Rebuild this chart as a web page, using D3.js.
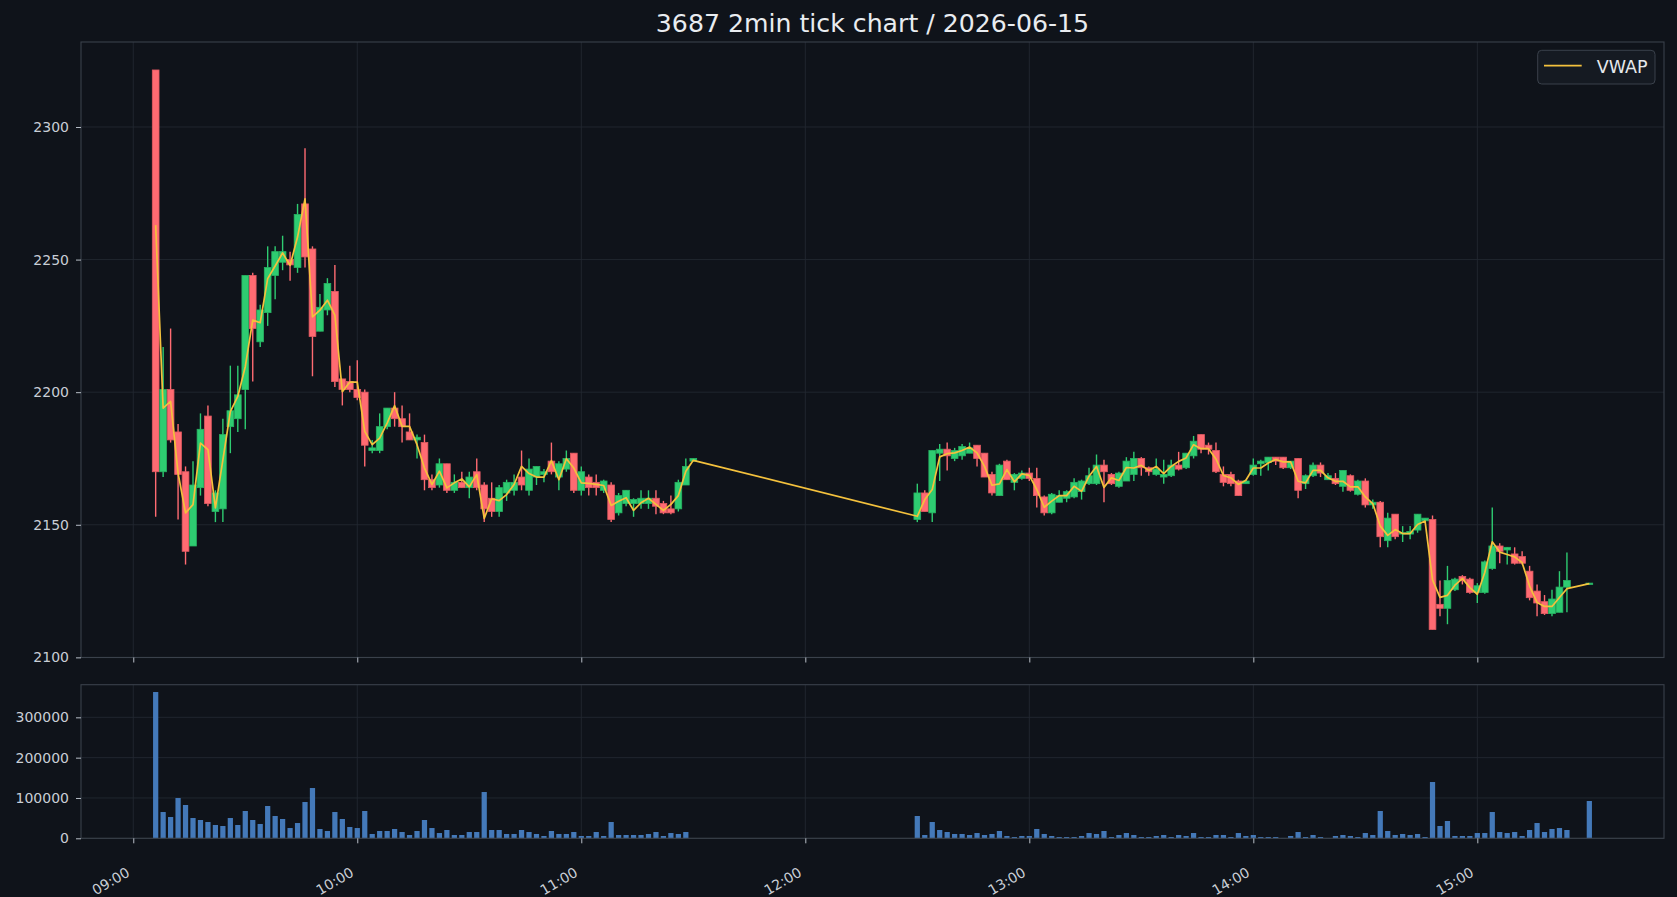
<!DOCTYPE html>
<html lang="en">
<head>
<meta charset="UTF-8">
<title>3687 2min tick chart</title>
<script src="https://cdn.jsdelivr.net/npm/d3@7"></script>
<style>
  html, body { margin: 0; padding: 0; background: #0f131a; }
  svg { display: block; font-family: "DejaVu Sans", sans-serif; }
</style>
</head>
<body>
<script>
  // 2-minute bars, morning session then afternoon session
  var times = ("09:06 09:08 09:10 09:12 09:14 09:16 09:18 09:20 09:22 09:24 09:26 09:28 09:30 09:32 09:34 09:36 09:38 09:40 09:42 09:44 09:46 09:48 09:50 09:52 09:54 09:56 09:58 " +
    "10:00 10:02 10:04 10:06 10:08 10:10 10:12 10:14 10:16 10:18 10:20 10:22 10:24 10:26 10:28 10:30 10:32 10:34 10:36 10:38 10:40 10:42 10:44 10:46 10:48 10:50 10:52 10:54 10:56 10:58 " +
    "11:00 11:02 11:04 11:06 11:08 11:10 11:12 11:14 11:16 11:18 11:20 11:22 11:24 11:26 11:28 11:30 " +
    "12:30 12:32 12:34 12:36 12:38 12:40 12:42 12:44 12:46 12:48 12:50 12:52 12:54 12:56 12:58 " +
    "13:00 13:02 13:04 13:06 13:08 13:10 13:12 13:14 13:16 13:18 13:20 13:22 13:24 13:26 13:28 13:30 13:32 13:34 13:36 13:38 13:40 13:42 13:44 13:46 13:48 13:50 13:52 13:54 13:56 13:58 " +
    "14:00 14:02 14:04 14:06 14:08 14:10 14:12 14:14 14:16 14:18 14:20 14:22 14:24 14:26 14:28 14:30 14:32 14:34 14:36 14:38 14:40 14:42 14:44 14:46 14:48 14:50 14:52 14:54 14:56 14:58 " +
    "15:00 15:02 15:04 15:06 15:08 15:10 15:12 15:14 15:16 15:18 15:20 15:22 15:24 15:30").split(" ");

  var open = [2321.5, 2170, 2201, 2185, 2170, 2142, 2164, 2191, 2155, 2156, 2187, 2190, 2201, 2244, 2219, 2230, 2244, 2249, 2250, 2247,
    2271, 2254, 2223, 2231, 2238, 2205, 2204, 2201, 2200, 2178, 2178, 2187, 2194, 2190, 2185, 2182, 2181, 2167, 2165, 2173,
    2163, 2166, 2164, 2170, 2165, 2160, 2155, 2162, 2163, 2168, 2163, 2168, 2169, 2174, 2168, 2171, 2177, 2163, 2168, 2166,
    2163, 2165, 2154.5, 2158, 2158, 2158, 2158, 2160, 2158, 2156, 2156, 2165, 2174,
    2152, 2162, 2154.5, 2177, 2178.5, 2175, 2176, 2177, 2180, 2177, 2169, 2161, 2174, 2166, 2167.5,
    2169.5, 2167.5, 2160.5, 2154.5, 2158.5, 2160, 2160.5, 2162.5, 2165.5, 2165.5, 2172.5, 2169, 2164.5, 2166.5, 2169,
    2175, 2171.5, 2169, 2168, 2168.5, 2172.5, 2171.5, 2176, 2184, 2180, 2178, 2169, 2169, 2166.5, 2165.5,
    2169, 2173, 2173.5, 2175.5, 2175.5, 2171.5, 2175, 2165.5, 2168.5, 2172.5, 2167, 2167.5, 2164.5, 2168.5, 2161.5,
    2166.5, 2157.5, 2158.5, 2144, 2154, 2146.5, 2146.5, 2148, 2151.5, 2152, 2120, 2118.5, 2125.5, 2130.5, 2129.5,
    2124.5, 2124.5, 2133.5, 2142, 2140.5, 2139, 2138, 2132.5, 2125, 2121, 2116.5, 2117, 2126.5, 2127.5];

  var high = [2321.5, 2217, 2224, 2188, 2172, 2174, 2192, 2195, 2163, 2190, 2210, 2210, 2244, 2245, 2233, 2255, 2255, 2259, 2253, 2271,
    2292, 2255, 2237, 2243, 2248, 2205, 2210, 2212, 2201, 2182, 2192, 2194, 2200, 2195, 2192, 2184, 2184, 2169, 2175, 2173,
    2169, 2170, 2170, 2175, 2166, 2166, 2165, 2167, 2169, 2178, 2175, 2172, 2171, 2181, 2174, 2178, 2177, 2172, 2169, 2169,
    2167, 2166, 2162, 2163, 2160, 2163, 2163, 2163, 2159, 2161, 2167, 2175, 2175,
    2165.5, 2163, 2178, 2180.5, 2181, 2179, 2180.5, 2181, 2180, 2177, 2170, 2173, 2174.5, 2169.5, 2170.5,
    2171.5, 2171.5, 2161, 2162, 2163, 2163, 2167.5, 2167, 2171.5, 2176.5, 2174.5, 2169.5, 2170, 2175.5, 2177.5,
    2175.5, 2172, 2175, 2174.5, 2174.5, 2177.5, 2177, 2183.5, 2184, 2181, 2181, 2172, 2170, 2167, 2167,
    2175, 2174.5, 2175.5, 2175.5, 2175.5, 2174, 2175, 2169, 2173.5, 2173.5, 2169.5, 2169.5, 2170.5, 2169, 2167,
    2167.5, 2159.5, 2159, 2154.5, 2154, 2149.5, 2149.5, 2154, 2152.5, 2153.5, 2129, 2134.5, 2130, 2131, 2130,
    2128, 2136.5, 2156.5, 2143, 2141.5, 2141.5, 2140, 2134.5, 2127.5, 2123.5, 2125.5, 2132.5, 2139.5, 2128];

  var low = [2153, 2168, 2181, 2152, 2135, 2142, 2161, 2157, 2151, 2151, 2177, 2185, 2186, 2204, 2217, 2225, 2235, 2246, 2242, 2245,
    2247, 2206, 2223, 2229, 2202, 2195, 2200, 2197, 2172, 2177, 2177, 2186, 2187, 2181, 2182, 2175, 2163, 2163, 2164, 2162,
    2162, 2164, 2160, 2163, 2151, 2153, 2153, 2159, 2161, 2163, 2161, 2165, 2166, 2169, 2163, 2170, 2162, 2161, 2161, 2161,
    2162, 2151, 2153.5, 2157, 2153, 2156, 2156, 2154, 2154, 2154, 2155, 2165, 2174,
    2151, 2155, 2151, 2166.5, 2170.5, 2174, 2174.5, 2177, 2172, 2168, 2161, 2161, 2167, 2163, 2167,
    2166.5, 2156.5, 2153.5, 2154, 2158.5, 2158.5, 2160, 2159.5, 2165, 2165, 2158.5, 2165, 2164, 2166.5, 2166.5,
    2168.5, 2168.5, 2168.5, 2165.5, 2168, 2170.5, 2171, 2175, 2177, 2176.5, 2169.5, 2164.5, 2164.5, 2161, 2165.5,
    2168.5, 2168.5, 2170.5, 2172.5, 2171, 2171, 2160, 2163.5, 2168, 2168, 2167, 2165, 2162.5, 2162.5, 2161,
    2156.5, 2156, 2141.5, 2141.5, 2144.5, 2143.5, 2144.5, 2147, 2151, 2110.5, 2115.5, 2112.5, 2125, 2127.5, 2124,
    2120.5, 2124, 2133, 2135.5, 2135, 2135, 2135, 2121.5, 2115.5, 2116, 2115.5, 2117, 2117, 2127.5];

  var close = [2170, 2201, 2182, 2169, 2140, 2165, 2186, 2158, 2162, 2184, 2193, 2199, 2244, 2224, 2231, 2247, 2253, 2253, 2248, 2267,
    2251, 2221, 2232, 2241, 2204, 2201, 2201, 2198, 2180, 2179, 2187, 2194, 2190, 2187, 2182, 2183, 2167, 2164, 2173, 2163,
    2166, 2164, 2168, 2164, 2156, 2155, 2164, 2166, 2166, 2165, 2171, 2172, 2170, 2170, 2173, 2175, 2163, 2170, 2164, 2164,
    2166.5, 2152, 2161, 2163, 2159.5, 2160, 2160, 2157, 2154.5, 2154.5, 2166, 2172, 2175,
    2162, 2155, 2178, 2178.5, 2176, 2178, 2179.5, 2179, 2175, 2168, 2162, 2172.5, 2167, 2169, 2169.5,
    2167.5, 2161, 2154.5, 2161.5, 2161, 2162.5, 2166, 2166.5, 2168.5, 2172.5, 2170, 2165.5, 2169.5, 2174, 2175,
    2171.5, 2170, 2171, 2169, 2172.5, 2171, 2177, 2181.5, 2178.5, 2178.5, 2170, 2166, 2165.5, 2161, 2166.5,
    2172.5, 2174, 2175.5, 2174, 2171.5, 2174, 2163, 2168.5, 2172.5, 2169.5, 2168.5, 2165.5, 2170.5, 2163, 2166.5,
    2157.5, 2158.5, 2145.5, 2152.5, 2145.5, 2147, 2147.5, 2154, 2152.5, 2110.5, 2118.5, 2129, 2129.5, 2129, 2124.5,
    2127, 2136, 2142, 2140, 2141.5, 2135.5, 2135.5, 2122.5, 2120.5, 2116.5, 2122, 2126.5, 2129, 2128];

  var vwap = [2263, 2194, 2196.5, 2169.5, 2154.5, 2157.6, 2180.8, 2178.3, 2156.4, 2174.5, 2192.7, 2198.4, 2209.6, 2227.2, 2226.2, 2242.8, 2247.6, 2252.5, 2247.8, 2258.5,
    2272.9, 2228.4, 2230.9, 2234.7, 2229.1, 2200.2, 2203.8, 2203.8, 2185.2, 2180.2, 2182.7, 2188.3, 2194.9, 2187.1, 2187.1, 2180.2, 2171.4, 2165.2, 2170.2, 2163.9,
    2165.8, 2167.3, 2164.3, 2168.9, 2152.4, 2159.8, 2159.1, 2161.4, 2165.2, 2172, 2169.3, 2168, 2168, 2174.2, 2167, 2174.9, 2171.4, 2165.8, 2165.6, 2165.2,
    2164.8, 2157.3, 2158.9, 2160.2, 2155.4, 2158.3, 2160, 2157.7, 2155.4, 2157.7, 2161, 2170.2, 2174.3,
    2153.2, 2159.5, 2163.3, 2175.6, 2176.8, 2177.1, 2178, 2179.3, 2177.1, 2172, 2164.9, 2165.4, 2170.8, 2166.2, 2169.2,
    2168.6, 2163.3, 2156.6, 2158.9, 2161, 2161, 2164.5, 2162.6, 2168.3, 2172, 2164.1, 2167.7, 2166.7, 2171.6, 2171.4,
    2172.4, 2170.5, 2172, 2169.3, 2172, 2173.9, 2175.2, 2180.2, 2178.7, 2178.7, 2174.8, 2168.6, 2167.7, 2165.2, 2166.8,
    2171.4, 2171.4, 2173.3, 2174.6, 2173.7, 2173.7, 2166.4, 2165.8, 2170.5, 2170.5, 2167.7, 2166.4, 2166.4, 2164.3, 2164.3,
    2160.5, 2158, 2149.5, 2146, 2148.2, 2146.7, 2146.7, 2150.1, 2151.4, 2129.2, 2122.6, 2123.4, 2127.2, 2129.7, 2126.3,
    2123.8, 2132, 2143.6, 2139.7, 2138.8, 2137.9, 2135.7, 2126.9, 2120.7, 2119.2, 2119.2, 2122.6, 2125.9, 2127.8];

  var volume = [362800, 65200, 52800, 99900, 82600, 50300, 45400, 40400, 33000, 30500, 50300, 33000, 67700, 45400, 35500, 80100, 55300, 47900, 25500, 37900,
    90000, 124700, 23100, 18100, 65200, 47900, 28000, 25500, 67700, 10700, 18100, 18100, 23100, 15600, 8200, 18100, 45400, 25500, 13100, 20600,
    8200, 8200, 15600, 15600, 114800, 20600, 20600, 10700, 10700, 20600, 15600, 10700, 5700, 18100, 10700, 10700, 15600, 5700, 5700, 15600,
    5700, 40400, 8200, 8200, 8200, 8200, 10700, 15600, 5700, 13100, 10700, 15600, 0,
    55300, 8200, 40400, 20600, 15600, 10700, 10700, 8200, 13100, 8200, 10700, 18100, 5700, 3200, 5700,
    5700, 23100, 10700, 5700, 3200, 3200, 3200, 5700, 13100, 10700, 18100, 3200, 8200, 13100, 8200,
    3200, 3200, 5700, 8200, 3200, 8200, 5700, 13100, 3200, 3200, 8200, 8200, 3200, 13100, 5700,
    8200, 3200, 3200, 3200, 800, 5700, 15600, 3200, 8200, 3200, 800, 5700, 8200, 5700, 3200,
    13100, 8200, 67700, 18100, 8200, 10700, 8200, 10700, 3200, 139600, 30500, 42900, 5700, 5700, 5700,
    13100, 13100, 65200, 15600, 13100, 15600, 5700, 20600, 37900, 15600, 23100, 25500, 20600, 92500];

  var hourTicks = ["09:00", "10:00", "11:00", "12:00", "13:00", "14:00", "15:00"];
  var priceTicks = [2100, 2150, 2200, 2250, 2300];
  var volumeTicks = [0, 100000, 200000, 300000];

  var W = 1677, H = 897;
  var bg = "#0f131a", gridColor = "#232831", spineColor = "#3a414b", textColor = "#c9ced6";
  var upColor = "#2ecc71", upEdge = "#27b463", downColor = "#ff6b72", downEdge = "#e25a62";
  var vwapColor = "#f4c13d", volColor = "#4479b9";

  var parse = d3.timeParse("%H:%M");
  var bars = times.map(function(t, i) {
    return { t: parse(t), o: open[i], h: high[i], l: low[i], c: close[i], vw: vwap[i], v: volume[i] };
  });

  var main = { left: 81, right: 1664, top: 42, bottom: 657.5 };
  var vol  = { left: 81, right: 1664, top: 684.7, bottom: 838.3 };

  var x = d3.scaleTime()
      .domain([parse("08:46"), parse("15:50")])
      .range([main.left, main.right]);

  var lo = d3.min(low), hi = d3.max(high), pad = (hi - lo) * 0.05;
  var y = d3.scaleLinear().domain([lo - pad, hi + pad]).range([main.bottom, main.top]);
  var yv = d3.scaleLinear().domain([0, d3.max(volume) * 1.05]).range([vol.bottom, vol.top]);

  var step = x(parse("09:02")) - x(parse("09:00"));
  var bodyW = step * 0.9, volW = step * 0.7;

  var svg = d3.select("body").append("svg")
      .attr("width", W)
      .attr("height", H);

  svg.append("rect").attr("width", W).attr("height", H).attr("fill", bg);

  // panel backgrounds and grids
  [main, vol].forEach(function(p, k) {
    svg.append("rect")
        .attr("x", p.left).attr("y", p.top)
        .attr("width", p.right - p.left).attr("height", p.bottom - p.top)
        .attr("fill", bg);

    var g = svg.append("g").attr("stroke", gridColor).attr("stroke-width", 0.9);
    g.selectAll("line.v")
        .data(hourTicks)
      .enter().append("line")
        .attr("x1", function(d) { return x(parse(d)); })
        .attr("x2", function(d) { return x(parse(d)); })
        .attr("y1", p.top).attr("y2", p.bottom);
    var sc = k === 0 ? y : yv, tv = k === 0 ? priceTicks : volumeTicks;
    g.selectAll("line.h")
        .data(tv)
      .enter().append("line")
        .attr("x1", p.left).attr("x2", p.right)
        .attr("y1", function(d) { return sc(d); })
        .attr("y2", function(d) { return sc(d); });
  });

  // candles
  var candles = svg.append("g");
  candles.selectAll("line")
      .data(bars)
    .enter().append("line")
      .attr("x1", function(d) { return x(d.t); })
      .attr("x2", function(d) { return x(d.t); })
      .attr("y1", function(d) { return y(d.h); })
      .attr("y2", function(d) { return y(d.l); })
      .attr("stroke", function(d) { return d.c >= d.o ? upColor : downColor; })
      .attr("stroke-width", 1.4);

  candles.selectAll("rect")
      .data(bars)
    .enter().append("rect")
      .attr("x", function(d) { return x(d.t) - bodyW / 2; })
      .attr("y", function(d) { return y(Math.max(d.o, d.c)); })
      .attr("width", bodyW)
      .attr("height", function(d) { return Math.max(1, Math.abs(y(d.o) - y(d.c))); })
      .attr("fill", function(d) { return d.c >= d.o ? upColor : downColor; })
      .attr("stroke", function(d) { return d.c >= d.o ? upEdge : downEdge; })
      .attr("stroke-width", 0.8);

  svg.append("path")
      .datum(bars)
      .attr("fill", "none")
      .attr("stroke", vwapColor)
      .attr("stroke-width", 1.7)
      .attr("stroke-linejoin", "round")
      .attr("d", d3.line()
        .x(function(d) { return x(d.t); })
        .y(function(d) { return y(d.vw); }));

  // volume
  svg.append("g").selectAll("rect")
      .data(bars)
    .enter().append("rect")
      .attr("x", function(d) { return x(d.t) - volW / 2; })
      .attr("y", function(d) { return yv(d.v); })
      .attr("width", volW)
      .attr("height", function(d) { return vol.bottom - yv(d.v); })
      .attr("fill", volColor);

  // spines
  [main, vol].forEach(function(p) {
    svg.append("rect")
        .attr("x", p.left).attr("y", p.top)
        .attr("width", p.right - p.left).attr("height", p.bottom - p.top)
        .attr("fill", "none")
        .attr("stroke", spineColor)
        .attr("stroke-width", 1.1);
  });

  function styleAxis(g) {
    g.select(".domain").remove();
    g.selectAll(".tick line").attr("stroke", "#b8bec7").attr("stroke-width", 1);
    g.selectAll(".tick text").attr("fill", textColor).attr("font-size", "14px")
      .attr("font-family", "DejaVu Sans, sans-serif");
  }

  svg.append("g")
      .attr("transform", "translate(" + main.left + ",0)")
      .call(d3.axisLeft(y).tickValues(priceTicks).tickSize(5).tickPadding(7)
        .tickFormat(d3.format("d")))
      .call(styleAxis);

  svg.append("g")
      .attr("transform", "translate(" + vol.left + ",0)")
      .call(d3.axisLeft(yv).tickValues(volumeTicks).tickSize(5).tickPadding(7)
        .tickFormat(d3.format("d")))
      .call(styleAxis);

  svg.append("g")
      .attr("transform", "translate(0," + main.bottom + ")")
      .call(d3.axisBottom(x).tickValues(hourTicks.map(parse)).tickSize(5).tickFormat(""))
      .call(styleAxis);

  var xa = svg.append("g")
      .attr("transform", "translate(0," + vol.bottom + ")")
      .call(d3.axisBottom(x).tickValues(hourTicks.map(parse)).tickSize(5)
        .tickFormat(d3.timeFormat("%H:%M")))
      .call(styleAxis);
  xa.selectAll(".tick text")
      .attr("text-anchor", "end")
      .attr("dy", null)
      .attr("y", 0)
      .attr("transform", "translate(-3,37) rotate(-30)");

  // title
  svg.append("text")
      .attr("x", (main.left + main.right) / 2)
      .attr("y", 32)
      .attr("text-anchor", "middle")
      .attr("fill", "#e9ecf0")
      .attr("font-size", "25.2px")
      .text("3687 2min tick chart / 2026-06-15");

  // legend
  var lg = svg.append("g");
  lg.append("rect")
      .attr("x", 1537.7).attr("y", 50.3)
      .attr("width", 117.3).attr("height", 33.7)
      .attr("rx", 4)
      .attr("fill", "#151a22")
      .attr("stroke", spineColor);
  lg.append("line")
      .attr("x1", 1544).attr("x2", 1581.7)
      .attr("y1", 65.7).attr("y2", 65.7)
      .attr("stroke", vwapColor)
      .attr("stroke-width", 1.7);
  lg.append("text")
      .attr("x", 1596.7).attr("y", 72.5)
      .attr("fill", "#e6e8ec")
      .attr("font-size", "17.5px")
      .text("VWAP");
</script>
</body>
</html>
